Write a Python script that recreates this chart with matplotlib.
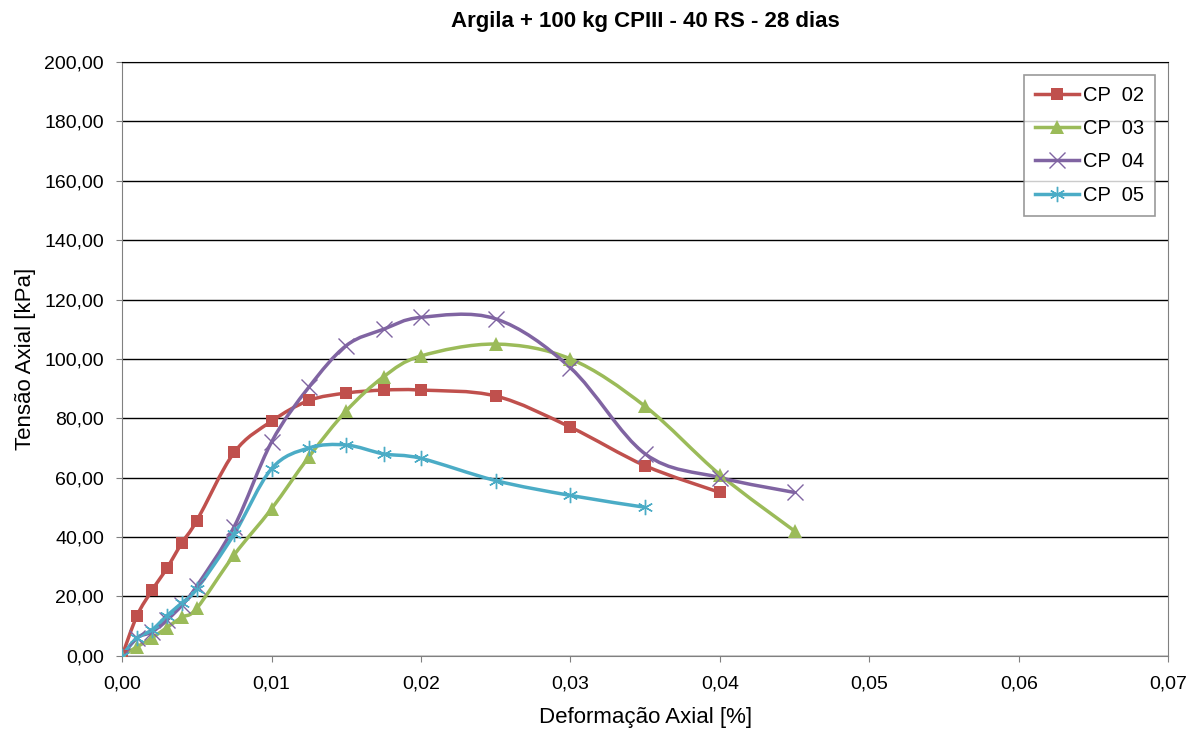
import matplotlib.pyplot as plt
from matplotlib.path import Path
from matplotlib.patches import PathPatch
from matplotlib.ticker import FuncFormatter

plt.rcParams['font.family'] = ['Liberation Sans', 'DejaVu Sans']

# Data
x_cp02 = [0, 0.001, 0.002, 0.003, 0.004, 0.005, 0.0075, 0.01, 0.0125, 0.015, 0.0175, 0.02, 0.025, 0.03, 0.035, 0.04]
y_cp02 = [0, 13.5, 22, 29.5, 38, 45.5, 68.5, 79, 86, 88.5, 89.5, 89.5, 87.5, 77, 64, 55]

x_cp03 = [0, 0.001, 0.002, 0.003, 0.004, 0.005, 0.0075, 0.01, 0.0125, 0.015, 0.0175, 0.02, 0.025, 0.03, 0.035, 0.04, 0.045]
y_cp03 = [0, 3, 6, 9.5, 13, 16, 34, 49.5, 67, 82.5, 94, 101, 105, 100, 84, 61, 42]

x_cp04 = [0, 0.001, 0.002, 0.003, 0.004, 0.005, 0.0075, 0.01, 0.0125, 0.015, 0.0175, 0.02, 0.025, 0.03, 0.035, 0.04, 0.045]
y_cp04 = [0, 6, 8, 12, 17, 23.5, 43.5, 72, 90.5, 104.5, 110, 114, 113.5, 97, 68, 60, 55]

x_cp05 = [0, 0.001, 0.002, 0.003, 0.004, 0.005, 0.0075, 0.01, 0.0125, 0.015, 0.0175, 0.02, 0.025, 0.03, 0.035]
y_cp05 = [0, 6, 8.7, 13.5, 17.8, 22.5, 41, 63, 70, 71, 68, 66.5, 59, 54, 50]

series = [
    ('CP  02', x_cp02, y_cp02, '#C0504D', 's', 9),
    ('CP  03', x_cp03, y_cp03, '#9BBB59', '^', 10),
    ('CP  04', x_cp04, y_cp04, '#8064A2', 'x', 11),
    ('CP  05', x_cp05, y_cp05, '#4BACC6', (6, 2, 0), 11),
]


def smooth_path(xs, ys):
    # Excel-style smoothed line: cubic Bezier through the points
    pts = list(zip(xs, ys))
    n = len(pts)
    verts = [pts[0]]
    codes = [Path.MOVETO]
    for i in range(n - 1):
        p0 = pts[i - 1] if i > 0 else pts[i]
        p1 = pts[i]
        p2 = pts[i + 1]
        p3 = pts[i + 2] if i + 2 < n else pts[i + 1]
        c1 = (p1[0] + (p2[0] - p0[0]) / 6, p1[1] + (p2[1] - p0[1]) / 6)
        c2 = (p2[0] - (p3[0] - p1[0]) / 6, p2[1] - (p3[1] - p1[1]) / 6)
        verts += [c1, c2, p2]
        codes += [Path.CURVE4] * 3
    return Path(verts, codes)


fig = plt.figure(figsize=(11.97, 7.31), dpi=100)
ax = fig.add_axes([0.102, 0.103, 0.874, 0.812])

for label, xs, ys, color, marker, ms in series:
    ax.add_patch(PathPatch(smooth_path(xs, ys), facecolor='none', edgecolor=color, lw=2.5, zorder=3))
    mew = 1.0 if marker in ('x', (6, 2, 0)) else 0
    ax.plot(xs, ys, linestyle='none', marker=marker, markersize=ms, color=color,
            markeredgewidth=mew, zorder=4)
    ax.plot([], [], color=color, lw=2.5, marker=marker, markersize=ms, markeredgewidth=mew, label=label)

ax.set_xlim(0, 0.07)
ax.set_ylim(0, 200)
ax.set_xticks([0, 0.01, 0.02, 0.03, 0.04, 0.05, 0.06, 0.07])
ax.set_yticks(range(0, 201, 20))
ax.xaxis.set_major_formatter(FuncFormatter(lambda v, p: f'{v:.2f}'.replace('.', ',')))
ax.yaxis.set_major_formatter(FuncFormatter(lambda v, p: f'{v:.2f}'.replace('.', ',')))
ax.tick_params(labelsize=14, length=4, color='#808080', direction='out')
ax.tick_params(axis='y', pad=9)
ax.tick_params(axis='x', pad=10)
ax.grid(axis='y', color='black', lw=1.0)
ax.set_axisbelow(True)
for side in ['left', 'bottom', 'right', 'top']:
    ax.spines[side].set_color('#808080')
ax.spines['top'].set_color('black')

ax.set_xlabel('Deformação Axial [%]', fontsize=16, labelpad=11)
ax.set_ylabel('Tensão Axial [kPa]', fontsize=16, labelpad=6)
ax.set_title('Argila + 100 kg CPIII - 40 RS - 28 dias', fontsize=16, fontweight='bold', pad=25)

leg = ax.legend(loc='upper right', bbox_to_anchor=(0.9876, 0.978), borderaxespad=0,
                fontsize=14.5, frameon=True, fancybox=False, edgecolor='#808080',
                handlelength=2.2, handletextpad=0.2, borderpad=0.55, labelspacing=0.7)
leg.get_frame().set_linewidth(1.2)

fig.savefig('out.png', dpi=100)
